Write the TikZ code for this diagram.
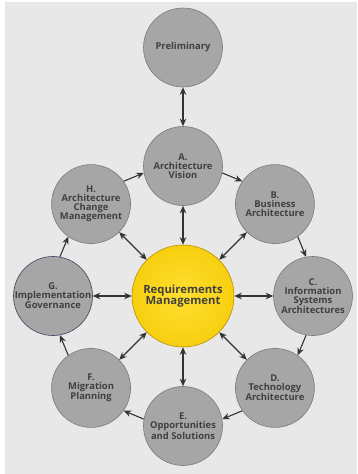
\documentclass[tikz,border=0pt]{standalone}
\usepackage{fontspec}
\setmainfont{Open Sans}
\usetikzlibrary{arrows.meta,calc}
\tikzset{>={Stealth[length=7.5pt,width=6.5pt]}}
\definecolor{bggray}{HTML}{E8E8E8}
\definecolor{circlegray}{HTML}{A6A6A6}
\definecolor{circleedge}{HTML}{7A7A7A}
\definecolor{govedge}{HTML}{3C4060}
\definecolor{textgray}{HTML}{404040}
\definecolor{arrowgray}{HTML}{333333}
\definecolor{reqyellow}{HTML}{F7CF10}
\definecolor{reqlight}{HTML}{FFDF30}
\definecolor{reqedge}{HTML}{B89000}

\begin{document}
\begin{tikzpicture}[x=1pt,y=1pt]

\tikzstyle{phase}=[circle,draw=circleedge,fill=circlegray,line width=0.6pt,
  minimum size=79pt,inner sep=-8pt,align=center,text=textgray,
  font=\bfseries\fontsize{9.4}{9}\selectfont]
\tikzstyle{req}=[circle,draw=reqedge,line width=0.6pt,inner color=reqlight,
  outer color=reqyellow,minimum size=102pt,inner sep=-8pt,align=center,
  text=textgray,font=\bfseries\fontsize{11.3}{10}\selectfont]
\tikzstyle{link}=[->,line width=1.1pt,draw=arrowgray]
\tikzstyle{both}=[<->,line width=1.1pt,draw=arrowgray]
\tikzstyle{gov}=[draw=govedge]
\tikzstyle{plain}=[]

  \fill[bggray] (5,-2) rectangle (357,-474);
  \useasboundingbox (0,0) rectangle (357,-474);

  \node[req] (req) at (183,-296) {Requirements\\Management};
  \node[phase] (pre) at (183,-47.5) {Preliminary};

  % the eight phases round the centre
  \foreach \n/\ang/\opt/\txt in {
    a/90/plain/{A.\\Architecture\\Vision},
    b/45/plain/{B.\\Business\\Architecture},
    c/0/plain/{C.\\Information\\Systems\\Architectures},
    d/-45/plain/{D.\\Technology\\Architecture},
    e/-90/plain/{E.\\Opportunities\\and Solutions},
    f/-135/plain/{F.\\Migration\\Planning},
    g/180/gov/{G.\\Implementation\\Governance},
    h/135/plain/{H.\\Architecture\\Change\\Management}}
    \node[phase,\opt] (\n) at ($(req)+(\ang:130pt)$) {\txt};

  \draw[both] (pre) -- (a);
  \foreach \n in {a,b,c,d,e,f,g,h}
    \draw[both] (req) -- (\n);

  % the cycle A to H
  \foreach \s/\t/\p in {a/b/90,b/c/45,c/d/0,d/e/-45,e/f/-90,f/g/-135,g/h/-180,h/a/-225} {
    \pgfmathtruncatemacro\sa{\p-100}
    \pgfmathtruncatemacro\ta{\p+55}
    \draw[link] (\s.\sa) -- (\t.\ta);
  }
\end{tikzpicture}
\end{document}
